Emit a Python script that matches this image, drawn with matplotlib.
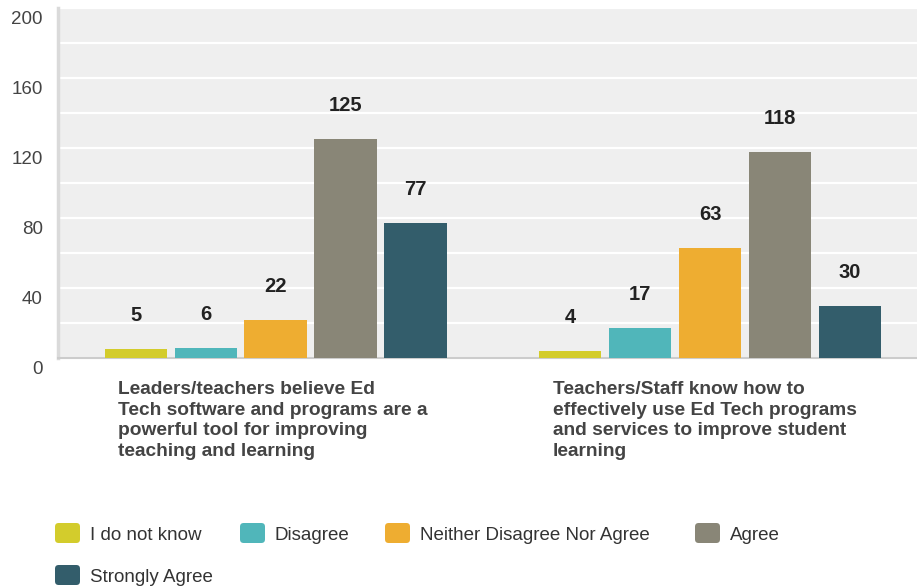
import matplotlib
matplotlib.use("Agg")
import matplotlib.pyplot as plt
import numpy as np
from matplotlib.transforms import ScaledTranslation
from matplotlib.patches import FancyBboxPatch

categories = [
    "Leaders/teachers believe Ed\nTech software and programs are a\npowerful tool for improving\nteaching and learning",
    "Teachers/Staff know how to\neffectively use Ed Tech programs\nand services to improve student\nlearning",
]
series_names = ["I do not know", "Disagree", "Neither Disagree Nor Agree", "Agree", "Strongly Agree"]
values = {
    "I do not know": [5, 4],
    "Disagree": [6, 17],
    "Neither Disagree Nor Agree": [22, 63],
    "Agree": [125, 118],
    "Strongly Agree": [77, 30],
}
colors = ["#D3CC2C", "#50B6BA", "#EEAD31", "#898677", "#335D6B"]
yticks = [0, 40, 80, 120, 160, 200]

plt.rcParams['font.family'] = ['Liberation Sans', 'DejaVu Sans']

W, H = 917, 586
fig = plt.figure(figsize=(W / 100, H / 100), dpi=100)
ax = fig.add_axes([58 / W, (H - 358) / H, 1 - 58 / W, 350 / H])
ax.set_facecolor("#EFEFEF")

x = np.arange(len(categories))
step = 0.161
width = 0.143
n = len(series_names)
for i, (name, c) in enumerate(zip(series_names, colors)):
    pos = x + (i - (n - 1) / 2) * step
    vals = values[name]
    ax.bar(pos, vals, width=width, color=c, zorder=3)
    for p, v in zip(pos, vals):
        ax.annotate(str(v), xy=(p, v), xytext=(0, 24), textcoords="offset points",
                    ha="center", va="center", fontsize=14.5, fontweight="bold", color="#222222")

ax.set_xlim(-0.5006, 1.476)
ax.set_ylim(0, 200)
ax.set_yticks(yticks)
ax.set_yticks([20, 60, 100, 140, 180], minor=True)
ax.grid(axis="y", which="both", color="white", lw=1.6, zorder=1)
ax.set_axisbelow(True)
ax.set_xticks([])
ax.tick_params(axis="y", which="both", length=0, pad=11, labelsize=13.5, labelcolor="#444444")
for lab in ax.get_yticklabels():
    lab.set_transform(lab.get_transform() + ScaledTranslation(0, -9 / 100, fig.dpi_scale_trans))

for s in ["top", "right"]:
    ax.spines[s].set_visible(False)
ax.spines["left"].set_color("#DADADA")
ax.spines["left"].set_linewidth(2.5)
ax.spines["bottom"].set_color("#CCCCCC")
ax.spines["bottom"].set_linewidth(1.5)

for xi, cat in zip(x, categories):
    ax.annotate(cat, xy=(xi - 0.3625, 0), xytext=(0, -16.5), textcoords="offset points",
                ha="left", va="top", fontsize=13.8, fontweight="bold", color="#444444",
                linespacing=1.28)

# legend, laid out in pixel positions
legend_slots = [(55, 533), (240, 533), (385, 533), (695, 533), (55, 575)]
sw, sh = 25, 20
for (px, py), name, c in zip(legend_slots, series_names, colors):
    box = FancyBboxPatch((px / W, (H - py - sh / 2) / H), sw / W, sh / H,
                         boxstyle="round,pad=0,rounding_size=0.004",
                         transform=fig.transFigure, facecolor=c, edgecolor="none",
                         mutation_aspect=W / H)
    fig.add_artist(box)
    fig.text((px + sw + 10) / W, (H - py) / H, name, ha="left", va="center_baseline",
             fontsize=13.5, color="#333333")

fig.savefig("out.png", dpi=100)
